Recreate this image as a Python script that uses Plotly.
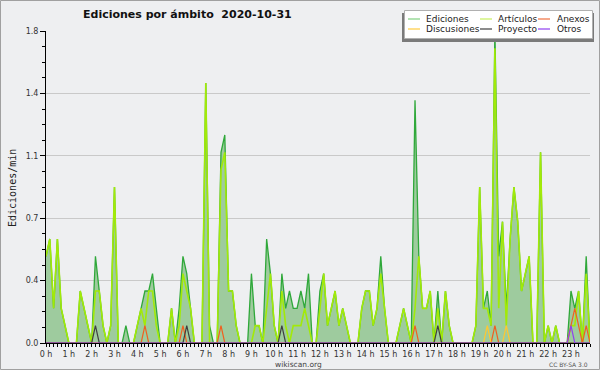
import plotly.graph_objects as go

# ---- data: 10-minute intervals (144 points), values in edits/min ----
ediciones = [0.5,0.6,0.2,0.6,0.2,0.1,0,0,0,0.3,0.2,0.1,0,0.5,0.3,0.1,0,0.1,0.9,0,
             0,0.1,0,0,0.1,0.2,0.3,0.3,0.4,0.2,0,0,0,0.2,0,0.2,0.5,0.4,0.2,0,
             0,0,1.5,0.1,0,0,1.1,1.2,0.3,0.3,0.1,0,0,0,0.4,0.1,0.1,0,0.6,0.4,
             0.1,0,0.4,0.2,0.3,0.2,0.2,0.3,0.2,0.4,0,0,0.3,0.4,0.1,0.2,0.3,0.1,0.2,0.1,
             0,0,0,0.2,0.3,0.3,0.1,0.2,0.5,0.2,0,0,0,0.1,0.2,0.1,0,1.4,0.5,0.2,
             0.2,0.3,0,0.3,0,0.3,0.1,0,0,0,0,0,0,0.1,0.9,0.2,0.3,0.1,1.8,0.5,
             0.7,0.2,0.6,0.9,0.7,0.3,0.4,0.5,0,0,1.1,0,0.1,0,0.1,0,0,0,0.3,0.2,
             0.3,0,0.5,0]
articulos = [0.5,0.6,0.2,0.6,0.2,0.1,0,0,0,0.3,0.2,0.1,0,0.3,0.3,0.1,0,0.1,0.9,0,
             0,0,0,0,0.1,0.2,0.1,0.3,0.3,0.1,0,0,0,0.2,0,0.1,0.4,0.3,0.2,0,
             0,0,1.5,0,0,0,1.0,1.1,0.3,0.3,0.1,0,0,0,0,0.1,0.1,0,0.2,0.4,
             0.1,0,0.3,0.1,0,0.1,0.1,0.1,0.2,0.1,0,0,0.2,0.4,0.1,0.2,0.3,0.1,0.2,0.1,
             0,0,0,0.2,0.3,0.3,0.1,0.2,0.4,0.2,0,0,0,0.1,0.2,0.1,0,0.2,0.5,0.2,
             0.2,0.3,0,0.2,0,0.3,0.1,0,0,0,0,0,0,0.1,0.9,0.2,0.2,0.1,1.7,0.2,
             0.7,0.1,0.6,0.9,0.7,0.3,0.4,0.5,0,0,1.1,0,0.1,0,0.1,0,0,0,0.1,0.1,
             0.3,0,0.4,0]
anexos_pts = {26: 0.1, 36: 0.1, 46: 0.1, 97: 0.1, 118: 0.1, 138: 0.1, 139: 0.2, 140: 0.1, 142: 0.1}
discusiones_pts = {116: 0.1, 121: 0.1}
proyecto_pts = {13: 0.1, 37: 0.1, 62: 0.1, 103: 0.1}
otros_pts = {138: 0.1}

N = len(ediciones)
hours = [i / 6 for i in range(N)]
anexos = [anexos_pts.get(i, 0) for i in range(N)]
discusiones = [discusiones_pts.get(i, 0) for i in range(N)]
proyecto = [proyecto_pts.get(i, 0) for i in range(N)]
otros = [otros_pts.get(i, 0) for i in range(N)]

series_names = ["Ediciones", "Artículos", "Anexos", "Discusiones", "Proyecto", "Otros"]
line_colors = ["#2fa83a", "#a2ea08", "#f06020", "#ffc830", "#404040", "#9040f0"]
legend_colors = ["#80d080", "#c8f060", "#f07040", "#ffcc40", "#404040", "#9040f0"]

fig = go.Figure()
fig.add_trace(go.Scatter(x=hours, y=ediciones, name=series_names[0], mode="lines",
                         line=dict(color=line_colors[0], width=1.3),
                         fill="tozeroy", fillcolor="#9ecb9e"))
fig.add_trace(go.Scatter(x=hours, y=articulos, name=series_names[1], mode="lines",
                         line=dict(color=line_colors[1], width=1.6)))
for name, ys, col in [(series_names[2], anexos, line_colors[2]),
                      (series_names[3], discusiones, line_colors[3]),
                      (series_names[4], proyecto, line_colors[4]),
                      (series_names[5], otros, line_colors[5])]:
    fig.add_trace(go.Scatter(x=hours, y=ys, name=name, mode="lines",
                             line=dict(color=col, width=1.2)))

# pixel geometry helpers
L, R, T, B = 46, 590, 31, 343
def px(x):
    return (x - L) / (R - L)
def py(y):
    return (B - y) / (B - T)

FONT = "DejaVu Sans"
shapes = []
annotations = []

# outer border
shapes.append(dict(type="rect", xref="paper", yref="paper",
                   x0=px(0.5), x1=px(599.5), y0=py(369.5), y1=py(0.5),
                   line=dict(color="#a0a0a0", width=1), fillcolor="rgba(0,0,0,0)", layer="above"))

# legend box (shadow + white box)
shapes.append(dict(type="rect", xref="paper", yref="paper",
                   x0=px(402), x1=px(594), y0=py(42), y1=py(13),
                   line=dict(width=0), fillcolor="#7a7a7a", layer="above"))
shapes.append(dict(type="rect", xref="paper", yref="paper",
                   x0=px(404.5), x1=px(592.5), y0=py(38.5), y1=py(10.5),
                   line=dict(color="#b0b0b0", width=1), fillcolor="white", layer="above"))
leg_cols = [(408, 424), (480, 496), (538, 555)]
leg_rows = [19, 29]
for k, name in enumerate(series_names):
    row = k // 3
    col = k % 3
    lx, tx = leg_cols[col]
    yy = leg_rows[row]
    shapes.append(dict(type="line", xref="paper", yref="paper",
                       x0=px(lx), x1=px(lx + 12), y0=py(yy), y1=py(yy),
                       line=dict(color=legend_colors[k], width=1.2), layer="above"))
    annotations.append(dict(text=name, xref="paper", yref="paper", x=px(tx), y=py(yy),
                            xanchor="left", yanchor="middle", showarrow=False,
                            font=dict(family=FONT, size=9, color="#222")))

annotations.append(dict(text="Ediciones por ámbito\u00a0\u00a02020-10-31", xref="paper", yref="paper",
                        x=px(187), y=py(15), xanchor="center", yanchor="middle", showarrow=False,
                        font=dict(family=FONT, size=11, color="#111", weight="bold")))
annotations.append(dict(text="Ediciones/min", xref="paper", yref="paper",
                        x=px(12), y=py(188), xanchor="center", yanchor="middle", showarrow=False,
                        textangle=-90, font=dict(family="DejaVu Sans Mono", size=10, color="#222")))
annotations.append(dict(text="wikiscan.org", xref="paper", yref="paper",
                        x=px(298), y=py(364), xanchor="center", yanchor="middle", showarrow=False,
                        font=dict(family=FONT, size=7.5, color="#444")))
annotations.append(dict(text="CC BY-SA 3.0", xref="paper", yref="paper",
                        x=px(590), y=py(364), xanchor="right", yanchor="middle", showarrow=False,
                        font=dict(family=FONT, size=6, color="#555")))

fig.update_layout(
    width=600, height=370,
    margin=dict(l=L, r=600 - R, t=T, b=370 - B),
    paper_bgcolor="#eeeff1", plot_bgcolor="#eeeff1",
    showlegend=False,
    shapes=shapes, annotations=annotations,
    font=dict(family=FONT, size=8, color="#333"),
)
fig.update_xaxes(range=[0, (N - 1) / 6], tickmode="linear", tick0=0, dtick=1,
                 ticksuffix=" h", showgrid=False, zeroline=False,
                 showline=True, linecolor="black", linewidth=1,
                 ticks="outside", ticklen=3, tickcolor="black", tickwidth=1,
                 tickfont=dict(family=FONT, size=8, color="#333"),
                 minor=dict(dtick=1 / 6, tick0=0, ticks="outside", ticklen=3,
                            tickcolor="black", showgrid=False))
fig.update_yaxes(range=[0, 1.8], tickmode="linear", tick0=0, dtick=0.36, tickformat=".1f",
                 showgrid=True, gridcolor="#c9c9c9", gridwidth=1, zeroline=False,
                 showline=True, linecolor="black", linewidth=1,
                 ticks="outside", ticklen=5, tickcolor="black", tickwidth=1,
                 tickfont=dict(family=FONT, size=8, color="#333"),
                 minor=dict(dtick=0.09, tick0=0, ticks="outside", ticklen=3,
                            tickcolor="black", showgrid=False))

fig.write_html("out.html", config={"displayModeBar": False},
               post_script="document.body.style.margin='0px';document.body.style.overflow='hidden';")
